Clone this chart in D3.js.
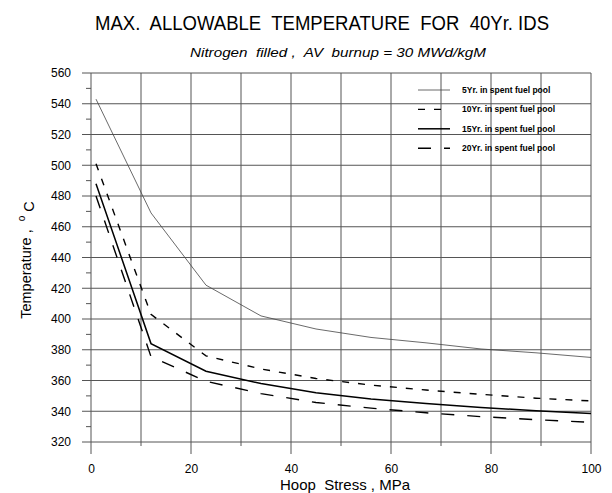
<!DOCTYPE html>
<html>
<head>
<meta charset="utf-8">
<script src="https://cdn.jsdelivr.net/npm/d3@7"></script>
<style>
  body { margin: 0; background: #fff; }
  svg { font-family: Arial, "Liberation Sans", sans-serif; }
  svg text { white-space: pre; }
</style>
</head>
<body>
<svg id="chart" width="612" height="493"></svg>
<script>
// data
var stress = [1, 12, 23, 34, 45, 56, 67, 78, 89, 100];
var temp5 = [543, 469, 422, 402, 393.5, 388, 384.5, 380.5, 378, 375];
var temp10 = [501, 403, 376, 367.5, 361.3, 357, 353.8, 351, 348.5, 346.7];
var temp15 = [488, 384, 366, 358, 352, 348, 345, 342.5, 340.3, 338.5];
var temp20 = [480, 375.5, 359.5, 351.5, 345.7, 342, 339, 336.5, 334.5, 332.8];
var seriesNames = ["5Yr. in spent fuel pool", "10Yr. in spent fuel pool", "15Yr. in spent fuel pool", "20Yr. in spent fuel pool"];
var xTicks = [0, 20, 40, 60, 80, 100];
var yTicks = [320, 340, 360, 380, 400, 420, 440, 460, 480, 500, 520, 540, 560];

var svg = d3.select("svg#chart");

var x = d3.scaleLinear().domain([0, 100]).range([91, 591]),
    y = d3.scaleLinear().domain([320, 560]).range([442, 73]);

var series = [
    { name: seriesNames[0], values: temp5, width: 0.8, color: "#444", dash: null },
    { name: seriesNames[1], values: temp10, width: 1.4, color: "#000", dash: "7,9" },
    { name: seriesNames[2], values: temp15, width: 1.5, color: "#000", dash: null },
    { name: seriesNames[3], values: temp20, width: 1.4, color: "#000", dash: "13,13" }
];

// grid
var grid = svg.append("g").attr("class", "grid");

grid.selectAll("line.v")
    .data(d3.range(0, 101, 10))
    .enter().append("line")
    .attr("class", "v")
    .attr("x1", function (d) { return x(d); })
    .attr("x2", function (d) { return x(d); })
    .attr("y1", y(560))
    .attr("y2", function (d) { return y(320) + (d % 20 === 0 ? 12 : 4); })
    .attr("stroke", "#555")
    .attr("stroke-width", 1);

grid.selectAll("line.h")
    .data(yTicks)
    .enter().append("line")
    .attr("class", "h")
    .attr("x1", x(0) - 9)
    .attr("x2", x(100))
    .attr("y1", function (d) { return y(d); })
    .attr("y2", function (d) { return y(d); })
    .attr("stroke", "#555")
    .attr("stroke-width", 1);

// minor y ticks
grid.selectAll("line.ym")
    .data(d3.range(330, 560, 20))
    .enter().append("line")
    .attr("class", "ym")
    .attr("x1", x(0) - 5)
    .attr("x2", x(0))
    .attr("y1", function (d) { return y(d); })
    .attr("y2", function (d) { return y(d); })
    .attr("stroke", "#555");

// axes labels through d3 axes, lines removed
var yAxis = svg.append("g")
    .attr("transform", "translate(" + (x(0) - 10) + ",0)")
    .call(d3.axisLeft(y).tickValues(yTicks).tickSize(0).tickPadding(8));

var xAxis = svg.append("g")
    .attr("transform", "translate(0," + y(320) + ")")
    .call(d3.axisBottom(x).tickValues(xTicks).tickSize(0).tickPadding(22));

svg.selectAll("path.domain").remove();
svg.selectAll(".tick text")
    .style("font-size", "12px")
    .style("font-family", "Arial, 'Liberation Sans', sans-serif")
    .attr("fill", "#000");
yAxis.selectAll(".tick text").attr("x", -10);

// lines
var line = d3.line()
    .x(function (d) { return x(d[0]); })
    .y(function (d) { return y(d[1]); });

svg.selectAll("path.series")
    .data(series)
    .enter().append("path")
    .attr("class", "series")
    .attr("d", function (s) { return line(d3.zip(stress, s.values)); })
    .attr("fill", "none")
    .attr("stroke", function (s) { return s.color; })
    .attr("stroke-width", function (s) { return s.width; })
    .attr("stroke-dasharray", function (s) { return s.dash; });

// legend
var legend = svg.append("g").attr("transform", "translate(418,90)");

var item = legend.selectAll("g")
    .data(series)
    .enter().append("g")
    .attr("transform", function (d, i) { return "translate(0," + (i * 19.4) + ")"; });

item.append("line")
    .attr("x1", 0)
    .attr("x2", 32)
    .attr("stroke", function (s) { return s.color; })
    .attr("stroke-width", function (s) { return s.width; })
    .attr("stroke-dasharray", function (s) { return s.dash; });

item.append("text")
    .attr("x", 44)
    .attr("dy", "0.35em")
    .style("font-size", "8.5px")
    .style("font-weight", "bold")
    .text(function (s) { return s.name; });

// titles
svg.append("text")
    .attr("x", 95)
    .attr("y", 30)
    .attr("textLength", 454)
    .attr("lengthAdjust", "spacingAndGlyphs")
    .style("font-size", "20px")
    .text("MAX.  ALLOWABLE  TEMPERATURE  FOR  40Yr. IDS");

svg.append("text")
    .attr("x", 190)
    .attr("y", 57)
    .attr("textLength", 296)
    .attr("lengthAdjust", "spacingAndGlyphs")
    .style("font-size", "13px")
    .style("font-style", "italic")
    .text("Nitrogen  filled ,  AV  burnup = 30 MWd/kgM");

svg.append("text")
    .attr("x", 280)
    .attr("y", 490)
    .attr("textLength", 130)
    .attr("lengthAdjust", "spacingAndGlyphs")
    .style("font-size", "14.5px")
    .text("Hoop  Stress , MPa");

var yTitle = svg.append("text")
    .attr("transform", "translate(31,260) rotate(-90)")
    .attr("text-anchor", "middle")
    .style("font-size", "14.5px");
yTitle.append("tspan").text("Temperature ,  ");
yTitle.append("tspan").attr("dy", "-0.6em").style("font-size", "10px").text("o");
yTitle.append("tspan").attr("dy", "0.6em").text(" C");
</script>
</body>
</html>
